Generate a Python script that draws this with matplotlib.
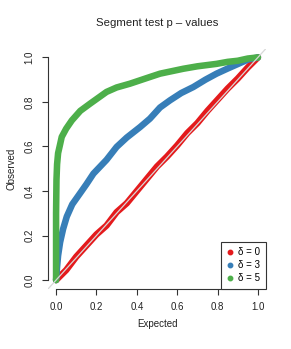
import matplotlib
matplotlib.use("Agg")
import matplotlib.pyplot as plt
from matplotlib.lines import Line2D

plt.rcParams['font.family'] = ['Liberation Sans', 'DejaVu Sans']

# sorted p-values, expected vs observed
red_x = [0, 0.05, 0.1, 0.15, 0.2, 0.25, 0.3, 0.35, 0.4, 0.45, 0.5, 0.55, 0.6, 0.65, 0.7,
         0.75, 0.8, 0.85, 0.9, 0.95, 1.0]
red_y = [0, 0.045, 0.105, 0.155, 0.205, 0.245, 0.305, 0.345, 0.40, 0.455, 0.51, 0.555, 0.605,
         0.66, 0.705, 0.76, 0.81, 0.86, 0.905, 0.955, 1.0]

blue_x = [0, 0.005, 0.01, 0.02, 0.035, 0.053, 0.08, 0.119, 0.15, 0.185, 0.25, 0.30, 0.35,
          0.416, 0.465, 0.515, 0.564, 0.62, 0.68, 0.74, 0.795, 0.85, 0.9, 0.95, 1.0]
blue_y = [0, 0.06, 0.11, 0.17, 0.23, 0.285, 0.34, 0.39, 0.43, 0.478, 0.54, 0.598, 0.64,
          0.687, 0.725, 0.775, 0.807, 0.84, 0.867, 0.90, 0.927, 0.95, 0.97, 0.99, 1.0]

green_x = [0, 0.0, 0.002, 0.005, 0.01, 0.02, 0.028, 0.05, 0.078, 0.12, 0.168, 0.25, 0.3,
           0.366, 0.465, 0.515, 0.63, 0.7, 0.795, 0.85, 0.9, 0.95, 1.0]
green_y = [0, 0.3, 0.45, 0.52, 0.57, 0.61, 0.643, 0.68, 0.717, 0.76, 0.792, 0.845, 0.865,
           0.882, 0.912, 0.927, 0.949, 0.96, 0.971, 0.98, 0.985, 0.995, 1.0]

labels = ['\u03b4 = 0', '\u03b4 = 3', '\u03b4 = 5']
colors = ['#E41A1C', '#377EB8', '#4DAF4A']
ticks = [0.0, 0.2, 0.4, 0.6, 0.8, 1.0]

fig = plt.figure(figsize=(2.91, 3.49), dpi=100)
W, H = 291, 349
ax = fig.add_axes([48 / W, (H - 289) / H, (266 - 48) / W, (289 - 48.5) / H])

for xs, ys, c in zip([red_x, blue_x, green_x], [red_y, blue_y, green_y], colors):
    ax.plot(xs, ys, color=c, lw=4.7, solid_capstyle='round', solid_joinstyle='round')

ax.axline((0, 0), (1, 1), color='#d8d8d8', lw=0.9, zorder=5)

ax.set_xlim(-0.04, 1.04)
ax.set_ylim(-0.04, 1.04)
ax.set_xticks(ticks)
ax.set_yticks(ticks)
ax.set_xticklabels([f'{t:.1f}' for t in ticks], fontsize=7)
ax.set_yticklabels([f'{t:.1f}' for t in ticks], fontsize=7, rotation=90, va='center')
ax.tick_params(length=4.5, width=0.8, color='#333333', labelcolor='#222222', pad=5)

for s in ['top', 'right']:
    ax.spines[s].set_visible(False)
ax.spines['left'].set_bounds(0, 1)
ax.spines['bottom'].set_bounds(0, 1)
for s in ['left', 'bottom']:
    ax.spines[s].set_color('#333333')
    ax.spines[s].set_linewidth(0.8)

ax.set_xlabel('Expected', fontsize=7, color='#222222', labelpad=5)
ax.set_ylabel('Observed', fontsize=7, color='#222222', labelpad=6)
fig.text(157 / W, 1 - 23 / H, 'Segment test p \u2013 values', ha='center', va='center',
         fontsize=8.2, color='#222222')

handles = [Line2D([], [], ls='none', marker='o', ms=3.2, color=c) for c in colors]
leg = ax.legend(handles, labels, loc='lower right', bbox_to_anchor=(1, 0), borderaxespad=0,
                fontsize=7, fancybox=False, framealpha=1, edgecolor='#333333',
                handlelength=0.8, handletextpad=0.4, borderpad=0.6, labelspacing=0.3)
leg.get_frame().set_linewidth(0.8)

fig.savefig('out.png', dpi=100)
